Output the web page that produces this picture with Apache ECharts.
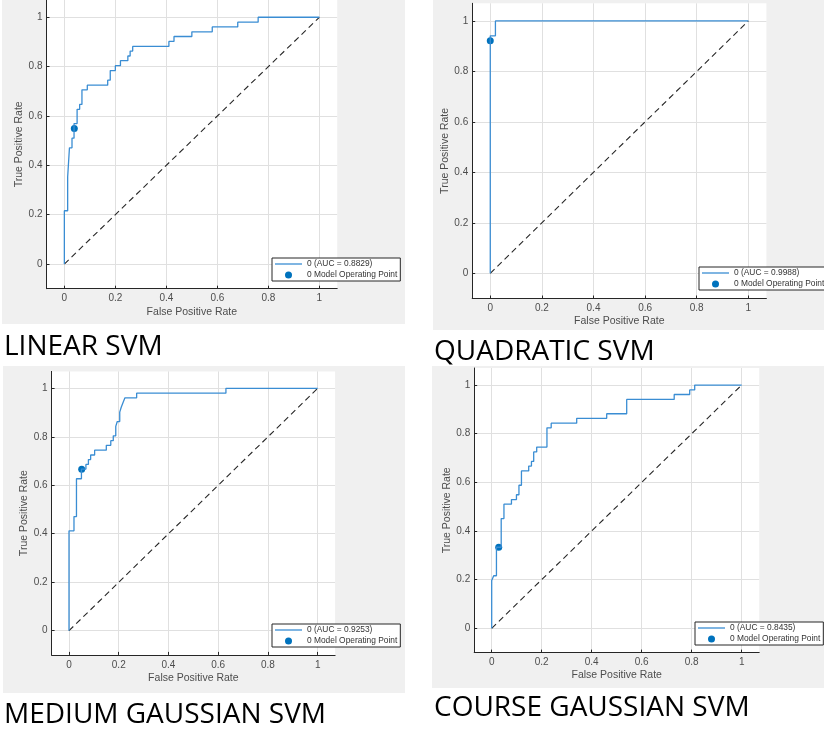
<!DOCTYPE html>
<html>
<head>
<meta charset="utf-8" />
<title>ROC curves</title>
<script src="https://cdn.jsdelivr.net/npm/echarts@6/dist/echarts.min.js"></script>
<style>
  html, body { margin: 0; padding: 0; background: #fff; }
  #chart { width: 824px; height: 729px; }
</style>
</head>
<body>
<div id="chart"></div>
<script>
// ROC curve points (false positive rate / true positive rate)
var linearFpr = [0, 0, 0.013, 0.013, 0.02, 0.02, 0.03, 0.03, 0.038, 0.038, 0.05, 0.05, 0.06, 0.06, 0.069, 0.069, 0.09, 0.09, 0.17, 0.17, 0.18, 0.18, 0.2, 0.2, 0.22, 0.22, 0.249, 0.249, 0.258, 0.258, 0.268, 0.268, 0.41, 0.41, 0.43, 0.43, 0.5, 0.5, 0.58, 0.58, 0.68, 0.68, 0.76, 0.76, 1];
var linearTpr = [0, 0.216, 0.216, 0.353, 0.353, 0.471, 0.471, 0.51, 0.51, 0.569, 0.569, 0.627, 0.627, 0.647, 0.647, 0.706, 0.706, 0.725, 0.725, 0.745, 0.745, 0.784, 0.784, 0.804, 0.804, 0.824, 0.824, 0.843, 0.843, 0.863, 0.863, 0.882, 0.882, 0.902, 0.902, 0.922, 0.922, 0.941, 0.941, 0.961, 0.961, 0.98, 0.98, 1, 1];

var quadFpr = [0, 0, 0.02, 0.02, 1];
var quadTpr = [0, 0.941, 0.941, 1, 1];

var mediumFpr = [0, 0, 0.02, 0.02, 0.03, 0.03, 0.05, 0.05, 0.068, 0.068, 0.078, 0.078, 0.087, 0.087, 0.103, 0.103, 0.15, 0.15, 0.168, 0.168, 0.178, 0.178, 0.188, 0.188, 0.194, 0.194, 0.204, 0.204, 0.21, 0.21, 0.217, 0.217, 0.225, 0.225, 0.272, 0.272, 0.631, 0.631, 1];
var mediumTpr = [0, 0.412, 0.412, 0.471, 0.471, 0.627, 0.627, 0.667, 0.667, 0.686, 0.686, 0.706, 0.706, 0.725, 0.725, 0.745, 0.745, 0.765, 0.765, 0.784, 0.784, 0.804, 0.804, 0.843, 0.843, 0.863, 0.863, 0.902, 0.902, 0.922, 0.922, 0.941, 0.941, 0.961, 0.961, 0.98, 0.98, 1, 1];

var coarseFpr = [0, 0, 0.008, 0.008, 0.019, 0.019, 0.038, 0.038, 0.049, 0.049, 0.079, 0.079, 0.099, 0.099, 0.109, 0.109, 0.119, 0.119, 0.148, 0.148, 0.159, 0.159, 0.168, 0.168, 0.18, 0.18, 0.221, 0.221, 0.238, 0.238, 0.34, 0.34, 0.46, 0.46, 0.54, 0.54, 0.73, 0.73, 0.792, 0.792, 0.812, 0.812, 1];
var coarseTpr = [0, 0.196, 0.196, 0.216, 0.216, 0.333, 0.333, 0.451, 0.451, 0.51, 0.51, 0.529, 0.529, 0.549, 0.549, 0.588, 0.588, 0.647, 0.647, 0.667, 0.667, 0.686, 0.686, 0.725, 0.725, 0.745, 0.745, 0.824, 0.824, 0.843, 0.843, 0.863, 0.863, 0.882, 0.882, 0.941, 0.941, 0.961, 0.961, 0.98, 0.98, 1, 1];

// model operating points [fpr, tpr]
var operatingPoints = [[0.039, 0.549], [0, 0.922], [0.051, 0.666], [0.028, 0.333]];
var aucValues = ['0.8829', '0.9988', '0.9253', '0.8435'];
var captions = ['LINEAR SVM', 'QUADRATIC SVM', 'MEDIUM GAUSSIAN SVM', 'COURSE GAUSSIAN SVM'];
var tickValues = [0, 0.2, 0.4, 0.6, 0.8, 1];
var chanceLine = [[0, 0], [1, 1]];

var curves = [
  [linearFpr, linearTpr],
  [quadFpr, quadTpr],
  [mediumFpr, mediumTpr],
  [coarseFpr, coarseTpr]
];

// layout of the four screenshots
var layout = [
  { grid: { left: 46.5, top: 0, width: 290.7, height: 288.7 }, bg: [2, 0, 403, 324], legend: [272, 258], cap: [4, 347] },
  { grid: { left: 472.2, top: 3.3, width: 294.2, height: 295.2 }, bg: [433, 0, 391, 330], legend: [699, 267], cap: [434, 352] },
  { grid: { left: 51.6, top: 371.4, width: 283.5, height: 283.5 }, bg: [3, 366, 402, 327], legend: [272, 624], cap: [4, 715] },
  { grid: { left: 474.2, top: 368, width: 285, height: 284.6 }, bg: [432, 366, 392, 322], legend: [695, 622], cap: [434, 708] }
];

var tickFont = { fontFamily: 'Liberation Sans, Arial, sans-serif', fontSize: 10, color: '#4d4d4d' };
var nameFont = { fontFamily: 'Liberation Sans, Arial, sans-serif', fontSize: 10.5, color: '#4d4d4d' };
var lineIcon = 'path://M0,0H27V1.3H0Z';

var grids = [], xAxes = [], yAxes = [], series = [], legends = [], graphics = [];

layout.forEach(function (p, i) {
  grids.push({ show: true, backgroundColor: '#fff', borderWidth: 0,
    left: p.grid.left, top: p.grid.top, width: p.grid.width, height: p.grid.height });

  xAxes.push({
    type: 'value', gridIndex: i, min: -0.07, max: 1.07,
    name: 'False Positive Rate', nameLocation: 'middle', nameGap: 17.5, nameTextStyle: nameFont,
    axisLine: { onZero: false, lineStyle: { color: '#262626', width: 1 } },
    axisTick: { show: true, inside: true, length: 3, customValues: tickValues, lineStyle: { color: '#262626' } },
    axisLabel: Object.assign({ customValues: tickValues, margin: 5 }, tickFont),
    splitLine: { show: true, lineStyle: { color: '#e0e0e0', width: 1 } }
  });
  yAxes.push({
    type: 'value', gridIndex: i, min: -0.1, max: 1.07,
    name: 'True Positive Rate', nameLocation: 'middle', nameGap: 16.5, nameTextStyle: nameFont,
    axisLine: { show: true, onZero: false, lineStyle: { color: '#262626', width: 1 } },
    axisTick: { show: true, inside: true, length: 3, customValues: tickValues, lineStyle: { color: '#262626' } },
    axisLabel: Object.assign({ customValues: tickValues, margin: 4 }, tickFont),
    splitLine: { show: true, lineStyle: { color: '#e0e0e0', width: 1 } }
  });

  var fpr = curves[i][0], tpr = curves[i][1];
  var rocName = '0 (AUC = ' + aucValues[i] + ')';

  series.push({
    name: 'chance' + i, type: 'line', xAxisIndex: i, yAxisIndex: i,
    data: chanceLine, symbol: 'none', silent: true,
    lineStyle: { color: '#262626', width: 1.1, type: [6, 4] }
  });
  series.push({
    name: rocName, type: 'line', xAxisIndex: i, yAxisIndex: i,
    data: fpr.map(function (x, k) { return [x, tpr[k]]; }),
    symbol: 'none', lineStyle: { color: '#3a8dd3', width: 1.3 }, itemStyle: { color: '#3a8dd3' }
  });
  series.push({
    name: '0 Model Operating Point', type: 'scatter', xAxisIndex: i, yAxisIndex: i,
    data: [operatingPoints[i]], symbolSize: 7, itemStyle: { color: '#0072BD', opacity: 1 }
  });

  legends.push({
    orient: 'vertical', left: p.legend[0], top: p.legend[1],
    data: [{ name: rocName, icon: lineIcon }, { name: '0 Model Operating Point', icon: 'circle' }],
    backgroundColor: '#fff', borderColor: '#262626', borderWidth: 1, borderRadius: 0,
    padding: [2, 3, 2, 3], itemWidth: 27, itemHeight: 7, itemGap: 3,
    selectedMode: false,
    textStyle: { fontFamily: 'Liberation Sans, Arial, sans-serif', fontSize: 8.4, color: '#333', padding: 0 }
  });

  graphics.push({
    type: 'rect', z: -10, silent: true,
    shape: { x: p.bg[0], y: p.bg[1], width: p.bg[2], height: p.bg[3] },
    style: { fill: '#f0f0f0' }
  });
  graphics.push({
    type: 'text', x: p.cap[0], y: p.cap[1], silent: true,
    style: {
      text: captions[i], fill: '#000', verticalAlign: 'middle',
      font: '28px "Open Sans", sans-serif'
    }
  });
});

var myChart = echarts.init(document.getElementById('chart'));
myChart.setOption({
  animation: false,
  backgroundColor: '#fff',
  grid: grids,
  xAxis: xAxes,
  yAxis: yAxes,
  legend: legends,
  graphic: graphics,
  series: series
});
</script>
</body>
</html>
